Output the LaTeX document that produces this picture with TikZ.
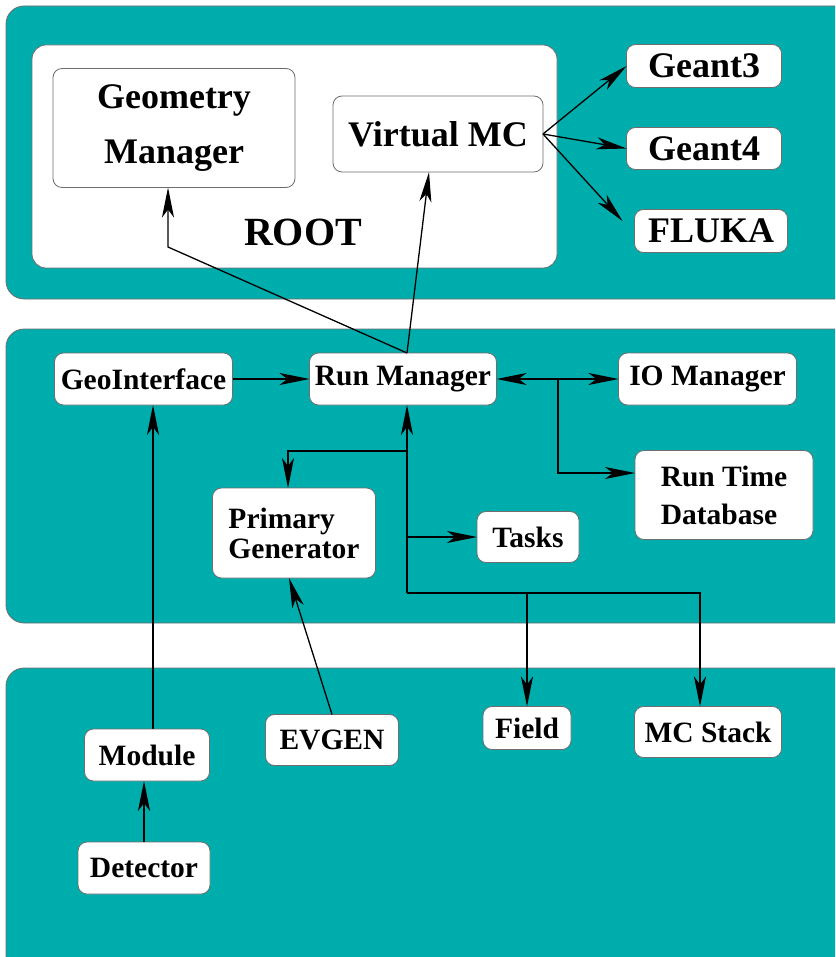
\documentclass[tikz,border=0pt]{standalone}
\usepackage{fontspec}
\setmainfont{Liberation Serif}
\usetikzlibrary{positioning}
\usetikzlibrary{arrows.meta}
\definecolor{panel}{RGB}{0,173,173}
\definecolor{rim}{RGB}{110,110,110}

\begin{document}
\begin{tikzpicture}[x=1pt,y=-1pt,>={Stealth[length=30pt,width=12pt,inset=8pt]},line width=1.3pt,
	every node/.style={inner sep=0,outer sep=0,font=\bfseries},
	blk/.style={draw=rim,line width=0.8pt,fill=white,rounded corners=9pt,align=center,font=\fontsize{29.5}{30}\selectfont\bfseries},
	big/.style={blk,font=\fontsize{36}{36}\selectfont\bfseries}]
	\useasboundingbox (0,0) rectangle (835,957);
	\clip (0,0) rectangle (835,957);
	% panels
	\draw[rim,fill=panel,line width=0.8pt,rounded corners=18pt] (6,6) rectangle (870,299);
	\draw[rim,fill=panel,line width=0.8pt,rounded corners=18pt] (6,329) rectangle (870,623);
	\draw[rim,fill=panel,line width=0.8pt,rounded corners=18pt] (6,668) rectangle (870,1000);
	\draw[rim,fill=white,line width=0.8pt,rounded corners=14pt] (32,45) rectangle (557,268);
	% ROOT
	\node[big,minimum width=242pt,minimum height=119pt,font=\fontsize{36}{55}\selectfont\bfseries] (geo) at (174,128) {Geometry\\Manager};
	\node[big,minimum width=210pt,minimum height=76pt] (vmc) at (438,134) {Virtual MC};
	\node[font=\fontsize{40}{40}\selectfont\bfseries] (root) at (303,232) {ROOT};
	\node[big,minimum width=155pt,minimum height=43pt] (g3) at (704,66) {Geant3};
	\node[big,minimum width=155pt,minimum height=42pt,below=40pt of g3] (g4) {Geant4};
	\node[big,minimum width=153pt,minimum height=43pt,below=40pt of g4,xshift=7pt] (fl) {FLUKA};
	% framework
	\node[blk,minimum width=187pt,minimum height=52pt] (run) at (403,379) {Run Manager};
	\node[blk,minimum width=178pt,minimum height=52pt,left=77pt of run] (gi) {GeoInterface};
	\node[blk,minimum width=178pt,minimum height=52pt,right=122pt of run] (io) {IO Manager};
	\node[blk,minimum width=178pt,minimum height=89pt,align=left,font=\fontsize{29.5}{38}\selectfont\bfseries] (rtdb) at (724,495) {Run Time\\Database};
	\node[blk,minimum width=163pt,minimum height=90pt,align=left] (pg) at (294,533) {Primary\\Generator};
	\node[blk,minimum width=102pt,minimum height=51pt] (tk) at (528,537) {Tasks};
	% user code
	\node[blk,minimum width=125pt,minimum height=52pt] (mod) at (147,755) {Module};
	\node[blk,minimum width=132pt,minimum height=52pt,below=61pt of mod,xshift=-3pt] (det) {Detector};
	\node[blk,minimum width=133pt,minimum height=51pt] (evg) at (332,740) {EVGEN};
	\node[blk,minimum width=88pt,minimum height=43pt] (fld) at (527,728) {Field};
	\node[blk,minimum width=147pt,minimum height=51pt] (mcs) at (708,732) {MC Stack};
	\coordinate (gbend) at (168,247);
	\coordinate (iob) at (558,379);
	\coordinate (tr) at (407,593);
	\coordinate (pgb) at (407,451);
	\coordinate (tkb) at (407,537);
	\coordinate (mt) at ([xshift=6pt]mod.north);
	\path[->]
		(vmc.east) edge (g3.west)
		(vmc.east) edge (g4.west)
		(vmc.east) edge ([xshift=-12pt,yshift=10pt]fl.west)
		([xshift=4pt]run.north) edge ([xshift=-9pt]vmc.south)
		(gi) edge (run)
		(run) edge[<->] (io)
		(tkb) edge (tk.west)
		(evg.north) edge ([xshift=-5pt]pg.south)
		(det.north) edge (det.north |- mod.south)
		(mt) edge (mt |- gi.south);
	\draw[->] ([xshift=4pt]run.north) -- (gbend) -- (gbend |- geo.south);
	\draw[->] (iob) |- ([yshift=22pt]rtdb.west);
	\draw[->] (tr) -- (tr |- run.south);
	\draw[->] (pgb) -| ([xshift=-6pt]pg.north);
	\draw[->] (tr) -| ([xshift=-8pt]mcs.north);
	\draw[->] (tr -| fld.north) -- (fld.north);
\end{tikzpicture}
\end{document}
